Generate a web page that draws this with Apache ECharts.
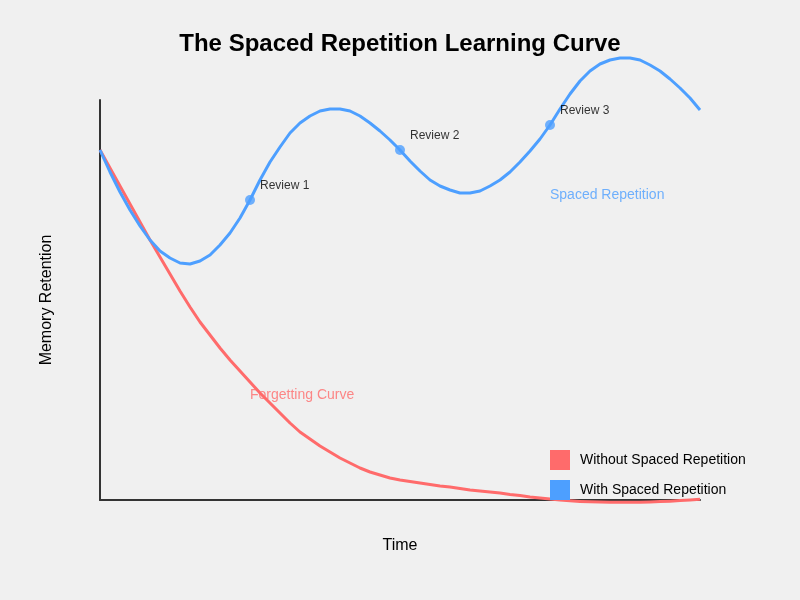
<!DOCTYPE html>
<html>
<head>
<meta charset="utf-8">
<script src="https://cdn.jsdelivr.net/npm/echarts@6/dist/echarts.min.js"></script>
<style>
html,body{margin:0;padding:0;background:#f0f0f0;}
#chart{width:800px;height:600px;}
</style>
</head>
<body>
<div id="chart"></div>
<script>
// Time units (0..600) and memory retention units (0..400, spaced curve overshoots the top)
const timeSteps = [0,10,20,30,40,50,60,70,80,90,100,110,120,130,140,150,160,170,180,190,200,
  210,220,230,240,250,260,270,280,290,300,310,320,330,340,350,360,370,380,390,400,
  410,420,430,440,450,460,470,480,490,500,510,520,530,540,550,560,570,580,590,600];
const spacedRetention = [350,328,308,290,274,260,249,242,237,236,239,245,255,267,282,300,320,338,353,367,377,
  384,389,391,391,389,384,377,369,360,350,339,329,320,314,310,307,307,309,314,320,
  328,338,349,361,375,391,406,419,429,436,440,442,442,440,435,429,421,412,402,390];
const forgetRetention = [350,332,314,296,278,260,243,226,209,193,178,165,152,140,129,118,107,97,87,77,68,
  61,54,48,42,37,32,28,25,22,20,18.5,17,15.5,14,13,11.5,10,9,8,7,
  5.5,4.5,3,2,1,0,-0.8,-1.4,-1.8,-2,-2.2,-2.3,-2.3,-2.2,-2,-1.6,-1.2,-0.6,0,0.8];
const reviewNames = ['Review 1','Review 2','Review 3'];
const reviewTime = [150,300,450];
const reviewRetention = [300,350,375];
const seriesNames = ['Without Spaced Repetition','With Spaced Repetition'];
const curveLabels = ['Forgetting Curve','Spaced Repetition'];
const curveLabelPos = [[150,105],[450,305]];

const RED = '#ff6b6b', BLUE = '#4d9fff';
const FONT = 'Liberation Sans, Arial, sans-serif';

const chart = echarts.init(document.getElementById('chart'));
chart.setOption({
  backgroundColor: '#f0f0f0',
  animation: false,
  textStyle: {fontFamily: FONT},
  title: {
    text: 'The Spaced Repetition Learning Curve',
    left: 'center', top: 27,
    textStyle: {fontSize: 24, fontWeight: 'bold', color: '#000', fontFamily: FONT}
  },
  grid: {left: 100, right: 100, top: 100, bottom: 100},
  legend: {
    data: seriesNames,
    orient: 'vertical', left: 545, top: 445,
    icon: 'rect', itemWidth: 20, itemHeight: 20, itemGap: 10,
    textStyle: {fontSize: 14, color: '#000', fontFamily: FONT, padding: [0,0,0,5]}
  },
  xAxis: {
    type: 'value', min: 0, max: 600,
    name: 'Time', nameLocation: 'middle', nameGap: 38,
    nameTextStyle: {fontSize: 16, color: '#000', fontFamily: FONT},
    axisLine: {show: true, lineStyle: {color: '#333', width: 2}},
    axisTick: {show: false}, axisLabel: {show: false}, splitLine: {show: false}
  },
  yAxis: {
    type: 'value', min: 0, max: 400,
    name: 'Memory Retention', nameLocation: 'middle', nameGap: 45,
    nameTextStyle: {fontSize: 16, color: '#000', fontFamily: FONT},
    axisLine: {show: true, lineStyle: {color: '#333', width: 2}},
    axisTick: {show: false}, axisLabel: {show: false}, splitLine: {show: false}
  },
  series: [
    {
      name: seriesNames[0], type: 'line', smooth: false, clip: false,
      showSymbol: false, symbol: 'none',
      data: timeSteps.map((t,i)=>[t, forgetRetention[i]]),
      lineStyle: {color: RED, width: 3, join: 'round'}, itemStyle: {color: RED}, z: 2
    },
    {
      name: seriesNames[1], type: 'line', smooth: false, clip: false,
      showSymbol: false, symbol: 'none',
      data: timeSteps.map((t,i)=>[t, spacedRetention[i]]),
      lineStyle: {color: BLUE, width: 3, join: 'round'}, itemStyle: {color: BLUE}, z: 3
    },
    {
      name: 'reviews', type: 'scatter', symbolSize: 10, clip: false, z: 4,
      itemStyle: {color: BLUE},
      data: reviewTime.map((t,i)=>({name: reviewNames[i], value: [t, reviewRetention[i]]})),
      label: {show: true, position: 'right', distance: 5, offset: [0,-14], formatter: '{b}',
              color: '#000', fontSize: 12, fontFamily: FONT}
    },
    {
      name: 'curveLabels', type: 'scatter', symbolSize: 0, clip: false, silent: true, z: 5,
      data: curveLabels.map((n,i)=>({name: n, value: curveLabelPos[i],
        label: {color: i === 0 ? RED : BLUE}})),
      label: {show: true, position: [0,0], align: 'left', verticalAlign: 'middle',
              formatter: '{b}', fontSize: 14, fontFamily: FONT}
    }
  ]
});
</script>
</body>
</html>
